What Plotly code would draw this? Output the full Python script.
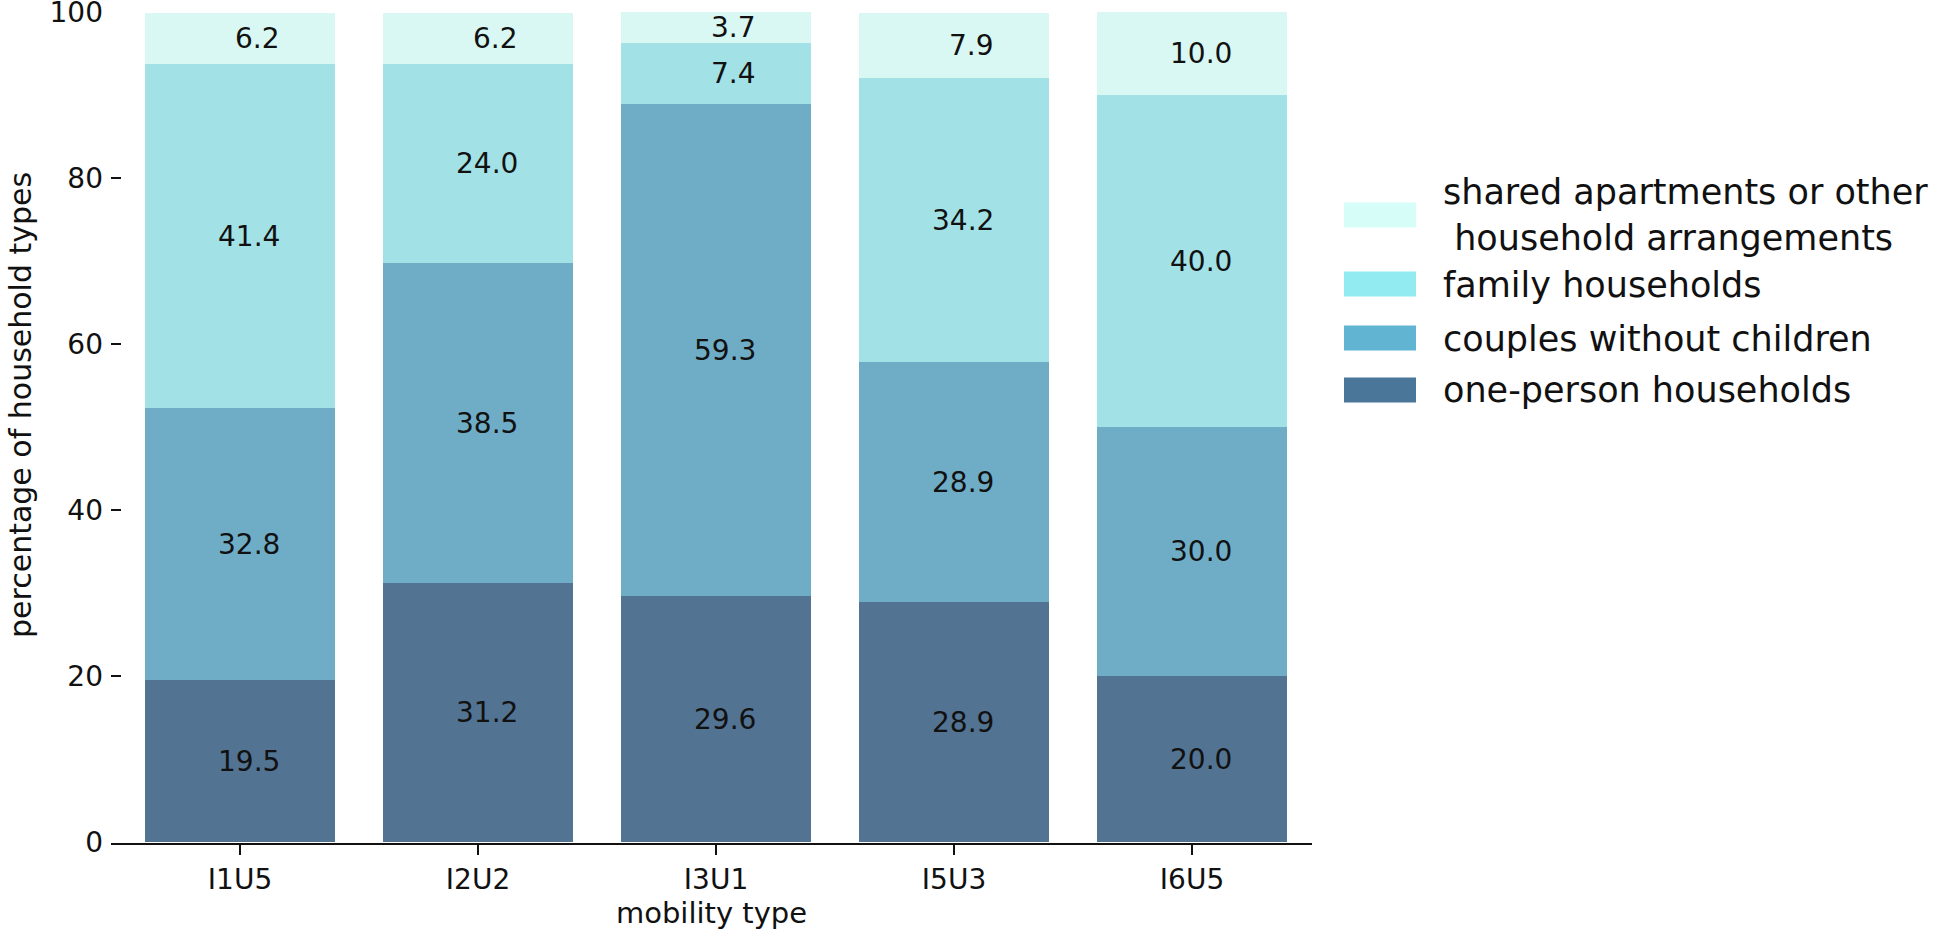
import plotly.graph_objects as go

# ---- data ----
categories = ["I1U5", "I2U2", "I3U1", "I5U3", "I6U5"]
one_person = [19.5, 31.2, 29.6, 28.9, 20.0]
couples = [32.8, 38.5, 59.3, 28.9, 30.0]
family = [41.4, 24.0, 7.4, 34.2, 40.0]
shared = [6.2, 6.2, 3.7, 7.9, 10.0]

series_names = [
    "one-person households",
    "couples without children",
    "family households",
    "shared apartments or other<br>\u00a0household arrangements",
]
series_values = [one_person, couples, family, shared]
bar_colors = ["#527392", "#6fadc7", "#a2e1e6", "#d9f8f3"]
legend_colors = ["#4a7699", "#62b4d3", "#92ebf0", "#d6fdf7"]
y_ticks = [0, 20, 40, 60, 80, 100]

FONT = "DejaVu Sans"
W, H = 1946, 935
L, T = 111, 11
PW, PH = 1201, 832
R, B = W - L - PW, H - T - PH


def px_x(p):
    return (p - L) / PW


def px_y(p):
    return (T + PH - p) / PH


fig = go.Figure()
for name, vals, col in zip(series_names, series_values, bar_colors):
    fig.add_trace(go.Bar(
        x=categories, y=vals, name=name, width=0.8,
        marker=dict(color=col, line=dict(width=0)),
        showlegend=False, hoverinfo="x+y",
    ))

annotations = []
# value labels
for i, cat in enumerate(categories):
    base = 0.0
    for vals in series_values:
        v = vals[i]
        annotations.append(dict(
            x=cat, y=base + v / 2, xref="x", yref="y", text=f"{v:.1f}",
            showarrow=False, xanchor="right", yanchor="middle", xshift=42,
            font=dict(family=FONT, size=28, color="#111111"),
        ))
        base += v

# y axis title
annotations.append(dict(
    x=px_x(20), y=px_y(405), xref="paper", yref="paper",
    text="percentage of household types", textangle=-90, showarrow=False,
    xanchor="center", yanchor="middle",
    font=dict(family=FONT, size=30, color="#111111"),
))

# manual legend
shapes = []
leg_centers = [390, 338, 284, 215]  # one-person, couples, family, shared
text_centers = [390, 339, 285, 215]
sw_h = 25
for name, col, yc, tc in zip(series_names, legend_colors, leg_centers, text_centers):
    shapes.append(dict(
        type="rect", xref="paper", yref="paper",
        x0=px_x(1344), x1=px_x(1416), y0=px_y(yc - sw_h / 2), y1=px_y(yc + sw_h / 2),
        fillcolor=col, line=dict(width=0),
    ))
    annotations.append(dict(
        x=px_x(1441), y=px_y(tc), xref="paper", yref="paper", text=name,
        showarrow=False, xanchor="left", yanchor="middle", align="left",
        font=dict(family=FONT, size=35, color="#111111"),
    ))

fig.update_layout(
    width=W, height=H,
    margin=dict(l=L, r=R, t=T, b=B, pad=0),
    barmode="stack", bargap=0.2,
    paper_bgcolor="white", plot_bgcolor="white",
    font=dict(family=FONT, size=28, color="#111111"),
    annotations=annotations, shapes=shapes,
    showlegend=False,
    xaxis=dict(
        type="category", range=[-0.542, 4.504],
        showline=True, linecolor="#111111", linewidth=2,
        ticks="outside", ticklen=10, tickwidth=2, tickcolor="#111111",
        tickfont=dict(family=FONT, size=28, color="#111111"),
        showgrid=False, zeroline=False,
        title=dict(text="mobility type", font=dict(family=FONT, size=29, color="#111111"), standoff=6),
        automargin=False,
    ),
    yaxis=dict(
        range=[-0.12, 100.12], tickvals=y_ticks,
        showline=False, showgrid=False, zeroline=False,
        ticks="inside", ticklen=10, tickwidth=2, tickcolor="#111111",
        tickfont=dict(family=FONT, size=28, color="#111111"),
        ticklabelstandoff=7, ticklabeloverflow="allow",
        automargin=False,
    ),
)

fig.write_html(
    "out.html",
    config={"displayModeBar": False},
    post_script="document.body.style.margin='0px';",
)
